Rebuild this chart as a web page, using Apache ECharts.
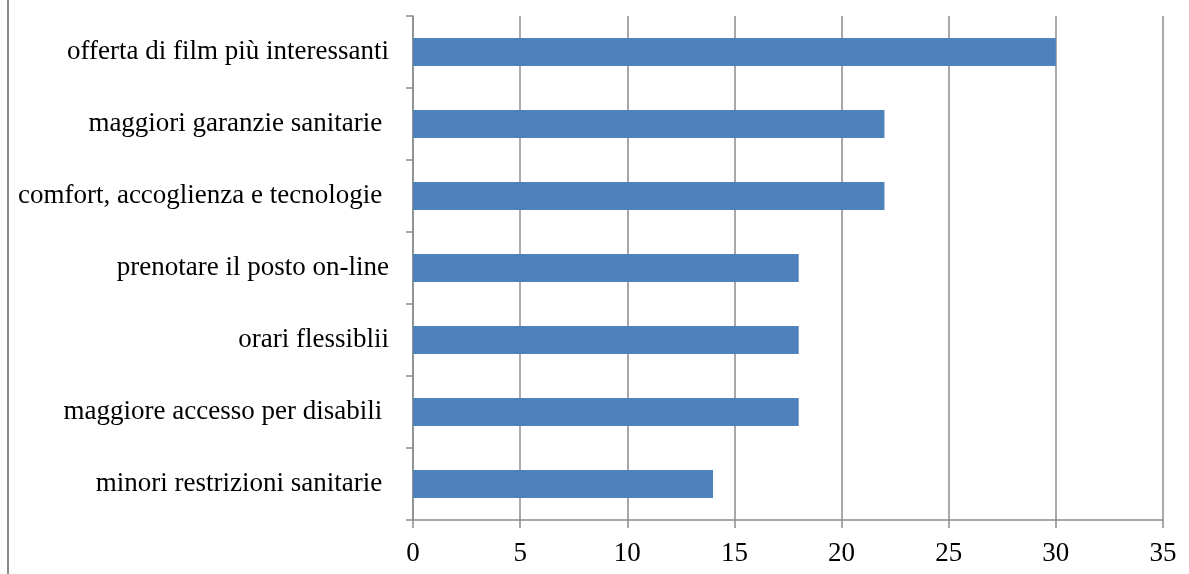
<!DOCTYPE html>
<html>
<head>
<meta charset="utf-8">
<script src="https://cdn.jsdelivr.net/npm/echarts@6/dist/echarts.min.js"></script>
<style>
  html, body { margin: 0; padding: 0; background: #ffffff; }
  #chart { width: 1189px; height: 574px; }
</style>
</head>
<body>
<div id="chart"></div>
<script>
// Motivi per tornare al cinema (risposte, top to bottom)
const categories = [
  'offerta di film più interessanti',
  'maggiori garanzie sanitarie ',
  'comfort, accoglienza e tecnologie ',
  'prenotare il posto on-line',
  'orari flessiblii',
  'maggiore accesso per disabili ',
  'minori restrizioni sanitarie '
];
const values = [30, 22, 22, 18, 18, 18, 14];
const xTicks = { min: 0, max: 35, interval: 5 };

const gray = '#8c8c8c';
const font = '"Liberation Serif", "Times New Roman", serif';

const chart = echarts.init(document.getElementById('chart'), null, { renderer: 'canvas' });
chart.setOption({
  animation: false,
  backgroundColor: '#ffffff',
  grid: { left: 413, right: 26, top: 16, bottom: 54, containLabel: false },
  xAxis: {
    type: 'value',
    min: xTicks.min,
    max: xTicks.max,
    interval: xTicks.interval,
    axisLine: { show: true, lineStyle: { color: gray, width: 1.5 } },
    axisTick: { show: true, length: 8, lineStyle: { color: gray, width: 1.5 } },
    axisLabel: { color: '#000', fontFamily: font, fontSize: 27, margin: 20 },
    splitLine: { show: true, lineStyle: { color: gray, width: 1.5 } }
  },
  yAxis: {
    type: 'category',
    data: categories,
    inverse: true,
    axisLine: { show: true, lineStyle: { color: gray, width: 1.5 } },
    axisTick: { show: true, length: 7, lineStyle: { color: gray, width: 1.5 } },
    axisLabel: { color: '#000', fontFamily: font, fontSize: 27, margin: 24 },
    splitLine: { show: false }
  },
  series: [{
    type: 'bar',
    data: values,
    barWidth: '39%',
    itemStyle: { color: '#4f81bd' }
  }],
  graphic: [{
    type: 'line',
    shape: { x1: 8, y1: 0, x2: 8, y2: 574 },
    style: { stroke: gray, lineWidth: 2 }
  }]
});
</script>
</body>
</html>
